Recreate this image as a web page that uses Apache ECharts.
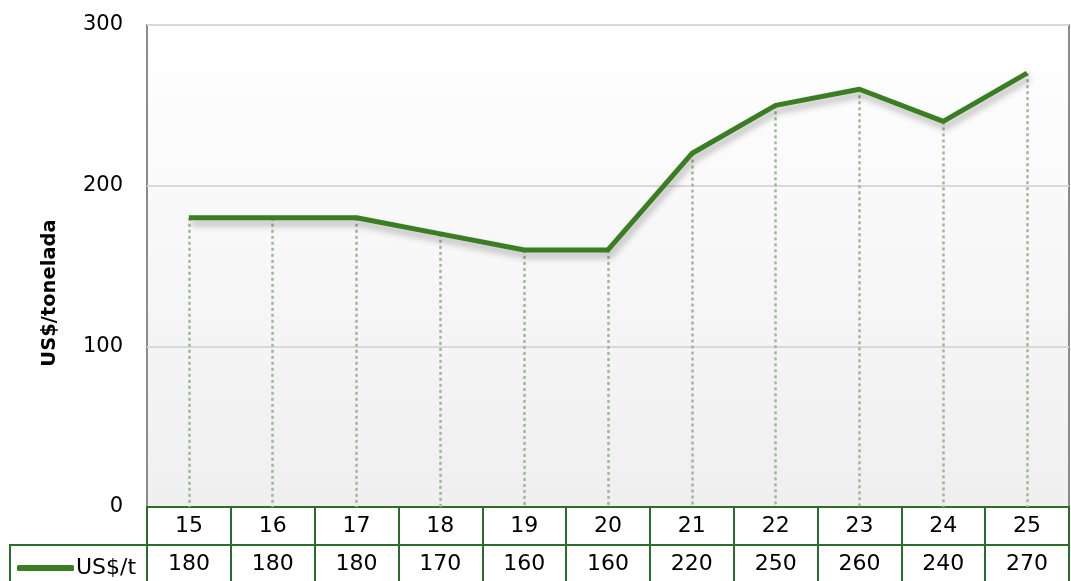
<!DOCTYPE html>
<html>
<head>
<meta charset="utf-8">
<script src="https://cdn.jsdelivr.net/npm/echarts@6/dist/echarts.min.js"></script>
<style>
html,body{margin:0;padding:0;background:#fff;}
#chart{width:1071px;height:581px;}
</style>
</head>
<body>
<div id="chart"></div>
<script>
// dados
var categories = ['15', '16', '17', '18', '19', '20', '21', '22', '23', '24', '25'];
var prices = [180, 180, 180, 170, 160, 160, 220, 250, 260, 240, 270];
var seriesName = 'US$/t';
var yTicks = [0, 100, 200, 300];

var lineColor = '#3b7d23';
var tableColor = '#2b6e2b';
var font = 'DejaVu Sans, Liberation Sans, sans-serif';

var chart = echarts.init(document.getElementById('chart'));

// linhas de projeção (pontilhadas) de cada ponto até o eixo
var dropLines = [];
for (var i = 0; i < prices.length; i++) {
	dropLines.push([{coord: [i, prices[i]]}, {coord: [i, 0]}]);
}

var option = {
	animation: false,
	textStyle: {fontFamily: font},
	grid: {
		left: 147, right: 2, top: 25, bottom: 74,
		show: true,
		borderColor: '#8c8c8c',
		borderWidth: 2,
		backgroundColor: {
			type: 'linear', x: 0, y: 0, x2: 0, y2: 1,
			colorStops: [{offset: 0, color: '#ffffff'}, {offset: 1, color: '#efefef'}]
		}
	},
	legend: {
		data: [seriesName],
		left: 12, top: 552,
		icon: 'roundRect',
		itemWidth: 57, itemHeight: 6,
		itemGap: 0,
		textStyle: {fontSize: 22, color: '#000', fontFamily: font, padding: [0, 0, 0, -3]}
	},
	xAxis: [{
		type: 'category',
		data: categories,
		position: 'bottom',
		boundaryGap: true,
		axisLine: {show: true, lineStyle: {color: tableColor, width: 2}},
		axisTick: {show: true, inside: false, length: 76, lineStyle: {color: tableColor, width: 2}},
		axisLabel: {margin: 8, fontSize: 22, color: '#000'},
		splitLine: {show: false}
	}, {
		type: 'category',
		data: categories,
		position: 'bottom',
		offset: 38,
		boundaryGap: true,
		axisLine: {show: true, lineStyle: {color: tableColor, width: 2}},
		axisTick: {show: false},
		axisLabel: {margin: 8, fontSize: 22, color: '#000', formatter: function (v, idx) { return String(prices[idx]); }}
	}],
	yAxis: {
		type: 'value',
		min: yTicks[0], max: yTicks[yTicks.length - 1], interval: 100,
		name: 'US$/tonelada',
		nameLocation: 'middle',
		nameGap: 87,
		nameTextStyle: {fontSize: 19.5, fontWeight: 'bold', color: '#000', padding: [0, 54, 0, 0]},
		axisLine: {show: false},
		axisTick: {show: false},
		axisLabel: {margin: 24, fontSize: 21, color: '#000'},
		splitLine: {lineStyle: {color: '#d9d9d9', width: 2}}
	},
	graphic: [{
		type: 'polyline',
		shape: {points: [[10, 583], [10, 545], [147, 545]]},
		style: {fill: 'none', stroke: tableColor, lineWidth: 2},
		z: 10
	}],
	series: [{
		name: seriesName,
		type: 'line',
		data: prices,
		symbol: 'none',
		lineStyle: {
			color: lineColor, width: 5,
			shadowColor: 'rgba(0,0,0,0.3)', shadowBlur: 7, shadowOffsetX: 2, shadowOffsetY: 5
		},
		itemStyle: {color: lineColor},
		markLine: {
			silent: true,
			symbol: 'none',
			label: {show: false},
			lineStyle: {color: '#9fb898', type: [3, 3], width: 2.5},
			data: dropLines
		},
		z: 5
	}]
};

chart.setOption(option);
</script>
</body>
</html>
